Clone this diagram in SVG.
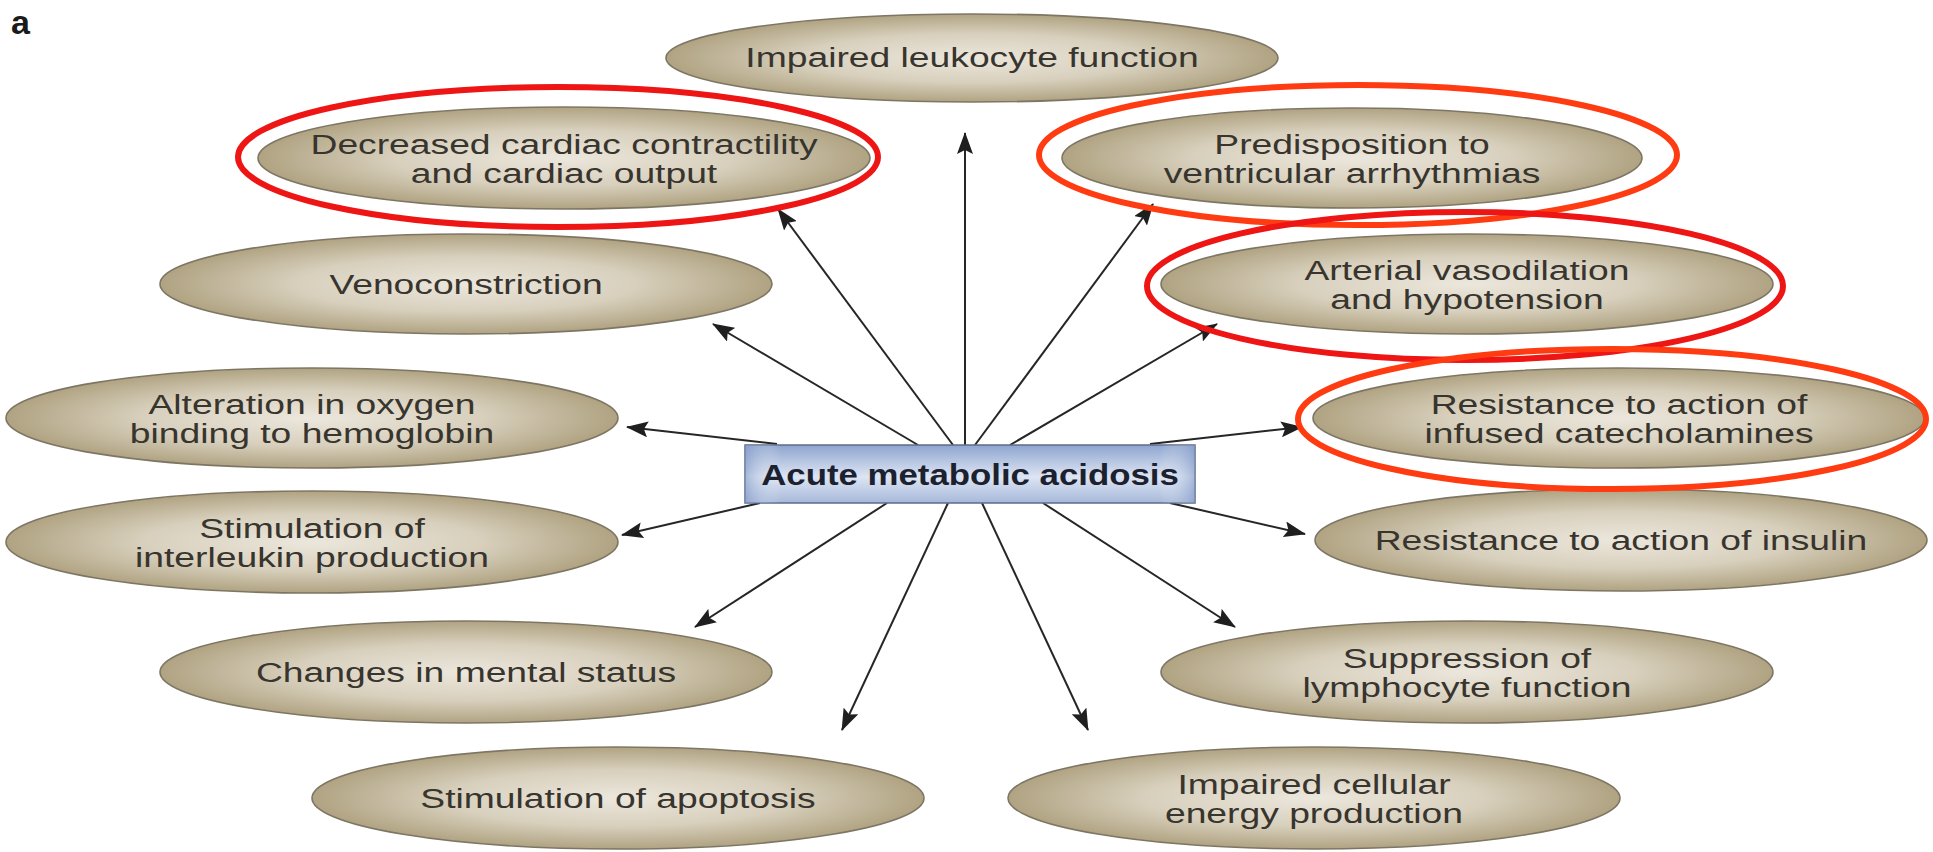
<svg xmlns="http://www.w3.org/2000/svg" width="1933" height="852" viewBox="0 0 1933 852">
<defs>
<radialGradient id="tan" cx="50%" cy="50%" r="50%">
<stop offset="0" stop-color="#ece7dd"/>
<stop offset="0.55" stop-color="#d8d0bd"/>
<stop offset="1" stop-color="#b0a382"/>
</radialGradient>
<linearGradient id="blue" x1="0" y1="0" x2="0" y2="1">
<stop offset="0" stop-color="#8ea5cf"/>
<stop offset="0.55" stop-color="#dde5f3"/>
<stop offset="1" stop-color="#a6b8da"/>
</linearGradient>
<linearGradient id="blueH" x1="0" y1="0" x2="1" y2="0">
<stop offset="0" stop-color="#7f98c6" stop-opacity="0.6"/>
<stop offset="0.08" stop-color="#ffffff" stop-opacity="0"/>
<stop offset="0.92" stop-color="#ffffff" stop-opacity="0"/>
<stop offset="1" stop-color="#7f98c6" stop-opacity="0.6"/>
</linearGradient>
<marker id="ah" markerUnits="userSpaceOnUse" markerWidth="22" markerHeight="16" refX="21" refY="8" orient="auto">
<path d="M0,0 L22,8 L0,16 L4,8 z" fill="#1f1f1f"/>
</marker>
</defs>
<style>
.el{fill:url(#tan);stroke:#7e7664;stroke-width:1.6}
.lb{font-family:"Liberation Sans",Arial,sans-serif;font-size:27px;fill:#38342e;text-anchor:middle}
.cn{stroke:#262626;stroke-width:2;fill:none;marker-end:url(#ah)}
.ring{fill:none;stroke-width:6}
.r1{stroke:#ee1515}
.r2{stroke:#ff3b12}
</style>
<rect width="1933" height="852" fill="#ffffff"/>
<text x="11" y="34" font-family="Liberation Sans,Arial,sans-serif" font-size="34" font-weight="bold" fill="#1a1a1a">a</text>

<g id="n-leukocyte"><ellipse class="el" cx="972" cy="58" rx="306" ry="44"/><text class="lb" transform="matrix(1.38 0 0 1 972 0)" x="0" y="67">Impaired leukocyte function</text></g>
<g id="n-cardiac"><ellipse class="el" cx="564" cy="158" rx="306" ry="51"/><text class="lb" transform="matrix(1.38 0 0 1 564 0)"><tspan x="0" y="154">Decreased cardiac contractility</tspan><tspan x="0" y="183">and cardiac output</tspan></text></g>
<g id="n-arrhythmias"><ellipse class="el" cx="1352" cy="158" rx="290" ry="50"/><text class="lb" transform="matrix(1.38 0 0 1 1352 0)"><tspan x="0" y="154">Predisposition to</tspan><tspan x="0" y="183">ventricular arrhythmias</tspan></text></g>
<g id="n-veno"><ellipse class="el" cx="466" cy="284" rx="306" ry="50"/><text class="lb" transform="matrix(1.38 0 0 1 466 0)" x="0" y="294">Venoconstriction</text></g>
<g id="n-vasodilation"><ellipse class="el" cx="1467" cy="284" rx="306" ry="50"/><text class="lb" transform="matrix(1.38 0 0 1 1467 0)"><tspan x="0" y="280">Arterial vasodilation</tspan><tspan x="0" y="309">and hypotension</tspan></text></g>
<g id="n-oxygen"><ellipse class="el" cx="312" cy="418" rx="306" ry="50"/><text class="lb" transform="matrix(1.38 0 0 1 312 0)"><tspan x="0" y="414">Alteration in oxygen</tspan><tspan x="0" y="443">binding to hemoglobin</tspan></text></g>
<g id="n-catecholamines"><ellipse class="el" cx="1619" cy="418" rx="306" ry="50"/><text class="lb" transform="matrix(1.38 0 0 1 1619 0)"><tspan x="0" y="414">Resistance to action of</tspan><tspan x="0" y="443">infused catecholamines</tspan></text></g>
<g id="n-interleukin"><ellipse class="el" cx="312" cy="542" rx="306" ry="51"/><text class="lb" transform="matrix(1.38 0 0 1 312 0)"><tspan x="0" y="538">Stimulation of</tspan><tspan x="0" y="567">interleukin production</tspan></text></g>
<g id="n-insulin"><ellipse class="el" cx="1621" cy="540" rx="306" ry="51"/><text class="lb" transform="matrix(1.38 0 0 1 1621 0)" x="0" y="550">Resistance to action of insulin</text></g>
<g id="n-mental"><ellipse class="el" cx="466" cy="672" rx="306" ry="51"/><text class="lb" transform="matrix(1.38 0 0 1 466 0)" x="0" y="682">Changes in mental status</text></g>
<g id="n-lymphocyte"><ellipse class="el" cx="1467" cy="672" rx="306" ry="51"/><text class="lb" transform="matrix(1.38 0 0 1 1467 0)"><tspan x="0" y="668">Suppression of</tspan><tspan x="0" y="697">lymphocyte function</tspan></text></g>
<g id="n-apoptosis"><ellipse class="el" cx="618" cy="798" rx="306" ry="51"/><text class="lb" transform="matrix(1.38 0 0 1 618 0)" x="0" y="808">Stimulation of apoptosis</text></g>
<g id="n-energy"><ellipse class="el" cx="1314" cy="798" rx="306" ry="51"/><text class="lb" transform="matrix(1.38 0 0 1 1314 0)"><tspan x="0" y="794">Impaired cellular</tspan><tspan x="0" y="823">energy production</tspan></text></g>

<g id="connectors">
<line class="cn" x1="965" y1="445" x2="965" y2="133"/>
<line class="cn" x1="953" y1="445" x2="778" y2="209"/>
<line class="cn" x1="918" y1="445" x2="713" y2="324"/>
<line class="cn" x1="777" y1="444" x2="627" y2="427"/>
<line class="cn" x1="975" y1="445" x2="1153" y2="204"/>
<line class="cn" x1="1010" y1="445" x2="1217" y2="324"/>
<line class="cn" x1="1150" y1="444" x2="1302" y2="427"/>
<line class="cn" x1="760" y1="503" x2="622" y2="535"/>
<line class="cn" x1="887" y1="503" x2="695" y2="627"/>
<line class="cn" x1="948" y1="503" x2="842" y2="730"/>
<line class="cn" x1="982" y1="503" x2="1088" y2="730"/>
<line class="cn" x1="1043" y1="503" x2="1235" y2="627"/>
<line class="cn" x1="1170" y1="503" x2="1305" y2="534"/>
</g>

<g id="n-acidosis">
<rect x="745" y="445" width="450" height="58" fill="url(#blue)" stroke="#5d6c86" stroke-width="1.5"/>
<rect x="745" y="445" width="450" height="58" fill="url(#blueH)"/>
<text transform="matrix(1.2 0 0 1 970 0)" x="0" y="485" font-family="Liberation Sans,Arial,sans-serif" font-size="29" font-weight="bold" fill="#1c2130" text-anchor="middle">Acute metabolic acidosis</text>
</g>

<g id="highlights">
<ellipse class="ring r1" cx="558" cy="157" rx="320" ry="70"/>
<ellipse class="ring r2" cx="1358" cy="155" rx="319" ry="70"/>
<ellipse class="ring r1" cx="1465" cy="286" rx="318" ry="74"/>
<ellipse class="ring r2" cx="1612" cy="419" rx="314" ry="70"/>
</g>
</svg>
